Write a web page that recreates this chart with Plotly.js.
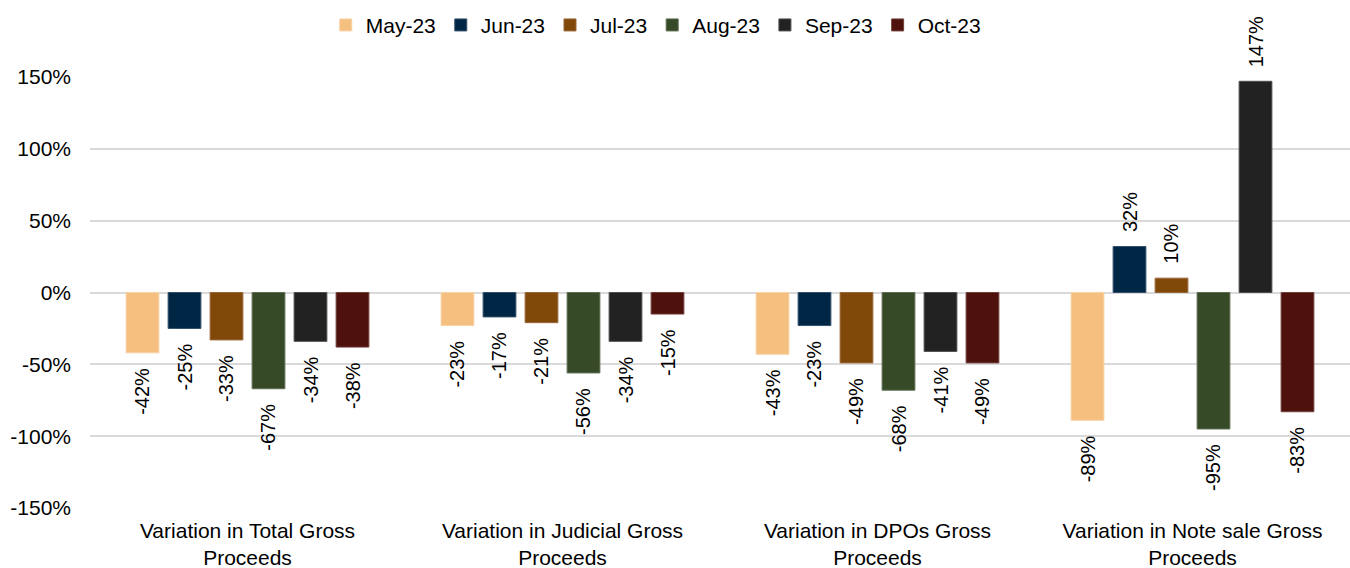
<!DOCTYPE html>
<html>
<head>
<meta charset="utf-8">
<script src="https://cdn.plot.ly/plotly-3.0.1.min.js"></script>
<style>
  html, body { margin: 0; padding: 0; background: #fff; }
  #chart { width: 1350px; height: 568px; }
</style>
</head>
<body>
<div id="chart"></div>
<script>
// categories on the x axis
const categories = [
  'Variation in Total Gross<br>Proceeds',
  'Variation in Judicial Gross<br>Proceeds',
  'Variation in DPOs Gross<br>Proceeds',
  'Variation in Note sale Gross<br>Proceeds'
];

// one series per month, values in %
const months = ['May-23', 'Jun-23', 'Jul-23', 'Aug-23', 'Sep-23', 'Oct-23'];
const may23 = [-42, -23, -43, -89];
const jun23 = [-25, -17, -23, 32];
const jul23 = [-33, -21, -49, 10];
const aug23 = [-67, -56, -68, -95];
const sep23 = [-34, -34, -41, 147];
const oct23 = [-38, -15, -49, -83];

const yTicks = [-150, -100, -50, 0, 50, 100, 150];

const colors = ['#F5BF80', '#002645', '#80490A', '#374A28', '#222222', '#4F110C'];
const outlines = ['#f8d2a6', '#33516a', '#99683a', '#5f6e53', '#4e4e4e', '#72403d'];
const series = [may23, jun23, jul23, aug23, sep23, oct23];

const FONT = 'Liberation Sans, Arial, sans-serif';

// plot geometry (used only to line the value labels up with their bars)
const W = 1350, H = 568;
const M = { l: 90, r: 0, t: 77, b: 60 };
const BARGAP = 0.2;
const slot = (W - M.l - M.r) / categories.length * (1 - BARGAP) / series.length;

const traces = series.map((vals, i) => ({
  type: 'bar',
  name: months[i],
  x: categories,
  y: vals,
  marker: { color: colors[i], line: { color: outlines[i], width: 1 } },
  hoverinfo: 'skip'
}));

// value labels, rotated, a bit away from the bar end
const annotations = [];
series.forEach((vals, i) => {
  vals.forEach((v, j) => {
    annotations.push({
      x: categories[j],
      y: v,
      xref: 'x', yref: 'y',
      text: v + '%',
      showarrow: false,
      textangle: -90,
      xshift: (i - (series.length - 1) / 2) * slot,
      yshift: v < 0 ? -13 : 12,
      yanchor: v < 0 ? 'top' : 'bottom',
      xanchor: 'center',
      font: { family: FONT, size: 20, color: '#000' }
    });
  });
});

const layout = {
  width: W,
  height: H,
  margin: M,
  paper_bgcolor: '#fff',
  plot_bgcolor: '#fff',
  font: { family: FONT, size: 21, color: '#000' },
  barmode: 'group',
  bargap: BARGAP,
  bargroupgap: 0.22,
  showlegend: true,
  legend: {
    orientation: 'h',
    x: 0.449, xanchor: 'center', xref: 'paper',
    y: 1.12, yanchor: 'middle',
    font: { size: 21 },
    itemwidth: 30,
    tracegroupgap: 0
  },
  xaxis: {
    type: 'category',
    showgrid: false,
    showline: false,
    ticks: '',
    ticklabelstandoff: 8,
    tickfont: { size: 21 }
  },
  yaxis: {
    range: [-150, 150],
    tickvals: yTicks,
    ticktext: yTicks.map(v => v + '%'),
    showgrid: true,
    gridcolor: '#d9d9d9',
    gridwidth: 2,
    zeroline: true,
    zerolinecolor: '#d9d9d9',
    zerolinewidth: 2,
    showline: false,
    ticks: '',
    ticklabelstandoff: 18,
    tickfont: { size: 21 }
  },
  annotations: annotations
};

Plotly.newPlot('chart', traces, layout, { displayModeBar: false, staticPlot: true });
</script>
</body>
</html>
